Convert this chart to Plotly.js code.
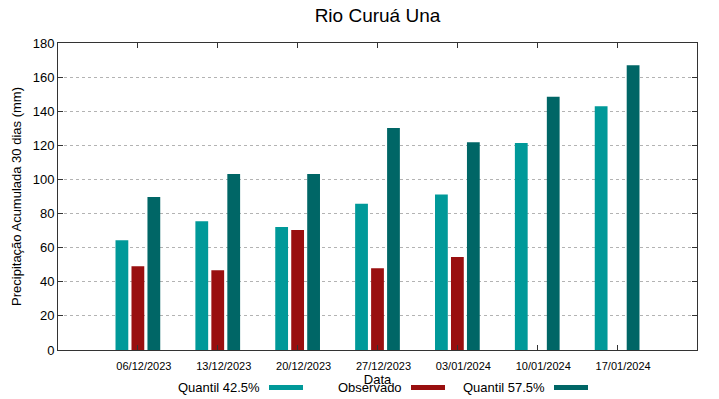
<!DOCTYPE html>
<html>
<head>
<meta charset="utf-8">
<script src="https://cdn.plot.ly/plotly-3.0.1.min.js"></script>
<style>html,body{margin:0;padding:0;background:#fff;}#chart{width:719px;height:399px;}</style>
</head>
<body>
<div id="chart"></div>
<script>
var dates = ["06/12/2023","13/12/2023","20/12/2023","27/12/2023","03/01/2024","10/01/2024","17/01/2024"];
var seriesNames = ["Quantil 42.5%","Observado","Quantil 57.5%"];
var seriesColors = ["#009999","#990f0f","#006666"];
var q425 = [64.3, 75.5, 72.1, 85.8, 91.1, 121.4, 142.9];
var observado = [49.1, 46.7, 70.4, 47.9, 54.5, null, null];
var q575 = [89.7, 103.2, 103.2, 130.2, 121.8, 148.5, 166.9];
var yTicks = [0,20,40,60,80,100,120,140,160,180];

var seriesValues = [q425, observado, q575];
var FONT = "Liberation Sans, Arial, sans-serif";

var traces = seriesValues.map(function(vals, i){
  return {
    type: "bar",
    name: seriesNames[i],
    x: dates,
    y: vals,
    marker: {color: seriesColors[i], line: {width: 0}},
    showlegend: false,
    hoverinfo: "x+y"
  };
});

// Custom gnuplot-style legend: text to the left of the swatch
var legendTextRight = [262, 404, 547];
var swatchLeft = [269, 411, 554];
var swatchW = 34;
var annotations = [];
var shapes = [];
for (var i = 0; i < seriesNames.length; i++) {
  annotations.push({
    xref: "paper", yref: "paper",
    x: (legendTextRight[i] - 58) / (697 - 58),
    y: (350 - 387) / (350 - 43),
    xanchor: "right", yanchor: "middle",
    text: seriesNames[i], showarrow: false,
    font: {family: FONT, size: 13, color: "#000"}
  });
  shapes.push({
    type: "rect", xref: "paper", yref: "paper",
    x0: (swatchLeft[i] - 58) / (697 - 58),
    x1: (swatchLeft[i] + swatchW - 58) / (697 - 58),
    y0: (350 - 390) / (350 - 43),
    y1: (350 - 385) / (350 - 43),
    fillcolor: seriesColors[i], line: {width: 0}
  });
}

var layout = {
  width: 719, height: 399,
  margin: {l: 58, r: 22, t: 43, b: 49},
  paper_bgcolor: "#fff", plot_bgcolor: "#fff",
  font: {family: FONT, color: "#000"},
  title: {text: "Rio Curuá Una", x: 0.525, xanchor: "center", y: 0.962, yanchor: "middle",
          font: {family: FONT, size: 19, color: "#000"}},
  barmode: "group",
  bargap: 0.4,
  bargroupgap: 0.2,
  xaxis: {
    type: "category",
    range: [-1, 7],
    showgrid: false,
    zeroline: false,
    showline: true, linecolor: "#333", linewidth: 1, mirror: "allticks",
    ticks: "inside", ticklen: 5, tickcolor: "#333", tickwidth: 1,
    tickfont: {family: FONT, size: 11, color: "#000"},
    ticklabelshift: 6,
    ticklabelstandoff: 6,
    title: {text: "Data", font: {family: FONT, size: 13, color: "#000"}, standoff: 2}
  },
  yaxis: {
    range: [0, 180],
    tickvals: yTicks,
    ticktext: yTicks.map(String),
    showgrid: true, gridcolor: "#b3b3b3", griddash: "dot", gridwidth: 1,
    zeroline: false,
    showline: true, linecolor: "#333", linewidth: 1, mirror: "allticks",
    ticks: "inside", ticklen: 5, tickcolor: "#333", tickwidth: 1,
    tickfont: {family: FONT, size: 13, color: "#000"},
    title: {text: "Precipitação Acumulada 30 dias (mm)", font: {family: FONT, size: 13, color: "#000"}, standoff: 8}
  },
  annotations: annotations,
  shapes: shapes
};

Plotly.newPlot("chart", traces, layout, {displayModeBar: false, staticPlot: true});
</script>
</body>
</html>
